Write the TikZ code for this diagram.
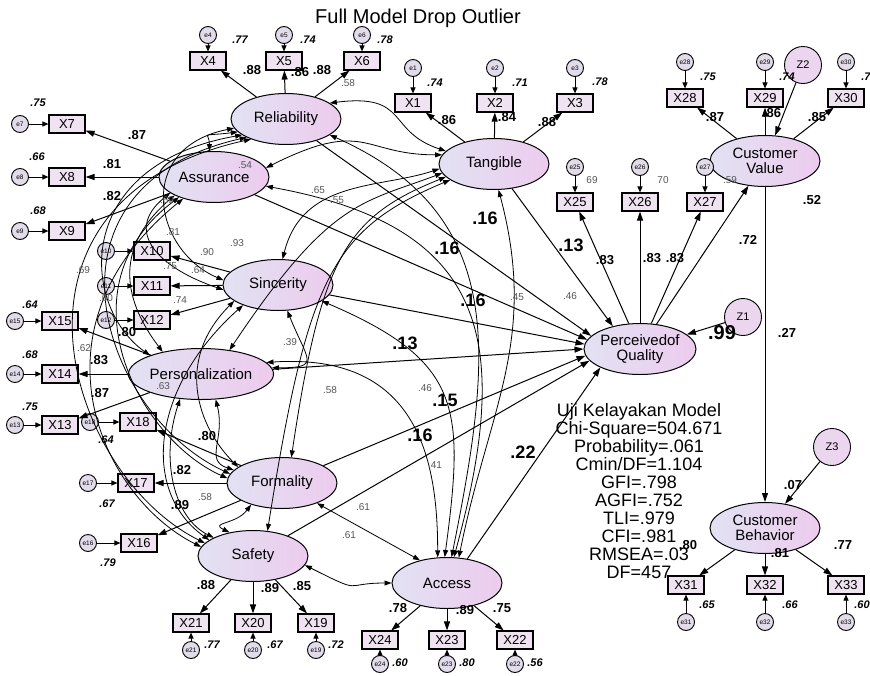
\documentclass[tikz,border=0pt]{standalone}
\usepackage{fontspec}
\setmainfont{Liberation Sans}
\usetikzlibrary{shapes.geometric,arrows.meta,calc}
\newcommand\myfs[1]{\fontsize{#1}{#1}\selectfont}
\definecolor{latL}{HTML}{E2E2F3}
\definecolor{latR}{HTML}{EDCBEE}
\definecolor{boxfill}{HTML}{EFE3F1}
\definecolor{errfill}{HTML}{E2DCEA}
\definecolor{zfill}{HTML}{ECD6EF}
\definecolor{smgray}{HTML}{555555}
\begin{document}
\begin{tikzpicture}[x=1pt,y=-1pt,
 lat/.style={ellipse,draw,line width=1pt,left color=latL,right color=latR,minimum width=110pt,minimum height=51pt,inner sep=0pt,align=center,font=\myfs{15}},
 obs/.style={rectangle,draw,line width=1.1pt,fill=boxfill,minimum width=36pt,minimum height=18pt,inner sep=0pt,font=\myfs{13}},
 err/.style={circle,draw,line width=0.9pt,fill=errfill,minimum size=17pt,inner sep=0pt,font=\myfs{6.5}},
 dist/.style={circle,draw,line width=0.9pt,fill=zfill,minimum size=37pt,inner sep=0pt,font=\myfs{11}},
 ld/.style={font=\bfseries\myfs{13}},
 rsq/.style={font=\bfseries\itshape\myfs{11}},
 big/.style={font=\bfseries\myfs{18}},
 sm/.style={font=\myfs{10},text=smgray},
 arr/.style={line width=1pt,-{Triangle[length=9pt,width=6pt]}},
 earr/.style={line width=1pt,-{Triangle[length=6pt,width=5pt]}},
 cov/.style={line width=0.8pt,{Triangle[length=7pt,width=5pt]}-{Triangle[length=7pt,width=5pt]}},
]
\useasboundingbox (0,0) rectangle (870,675);
\node[font=\myfs{20}] (title) at (418,18) {Full Model Drop Outlier};

% latent variables
\node[lat] (Rel) at (286,119) {Reliability};
\node[lat] (Ass) at (214,177) {Assurance};
\node[lat] (Tan) at (494,164) {Tangible};
\node[lat] (Sin) at (278,285) {Sincerity};
\node[lat] (Per) at (201,374) {Personalization};
\node[lat] (For) at (282,483) {Formality};
\node[lat] (Saf) at (253,556) {Safety};
\node[lat] (Acc) at (447,583) {Access};
\node[lat] (PQ) at (640,349) {Perceivedof\\Quality};
\node[lat] (CV) at (765,161) {Customer\\Value};
\node[lat] (CB) at (765,528) {Customer\\Behavior};
\node[dist] (Z1) at (743,317) {Z1};
\node[dist] (Z2) at (803,65) {Z2};
\node[dist] (Z3) at (832,447) {Z3};

% indicators
\foreach \n/\x/\y in {X4/208/61,X5/284/61,X6/362/61,X1/413/103,X2/495/103,X3/575/103,
  X28/685/98,X29/765/98,X30/846/98,X25/575/202,X26/640/202,X27/705/202,
  X7/67/124,X8/67/177,X9/67/231,X10/152/251,X11/152/286,X12/152/320,
  X15/60/321,X14/60/374,X13/60/425,X18/138/422,X17/136/483,X16/139/543,
  X21/191/623,X20/253/623,X19/316/623,X24/380/640,X23/447/640,X22/515/640,
  X31/686/585,X32/765/585,X33/846/585}
  {\node[obs] (\n) at (\x,\y) {\n};}

% error terms above
\foreach \n/\x/\y/\l in {X4/208/35/e4,X5/284/35/e5,X6/362/35/e6,X1/413/68/e1,X2/495/68/e2,X3/575/68/e3,
  X28/685/62/e28,X29/765/62/e29,X30/846/62/e30,X25/575/167/e25,X26/640/167/e26,X27/705/167/e27}
  {\node[err] (e\n) at (\x,\y) {\l}; \draw[earr] (e\n) -- (\n);}
% error terms left
\foreach \n/\x/\y/\l in {X7/20/124/e7,X8/20/177/e8,X9/20/231/e9,X10/106/251/e10,X11/106/286/e11,X12/106/320/e12,
  X15/15/321/e15,X14/15/374/e14,X13/15/425/e13,X18/90/422/e18,X17/88/483/e17,X16/88/543/e16}
  {\node[err] (e\n) at (\x,\y) {\l}; \draw[earr] (e\n) -- (\n);}
% error terms below
\foreach \n/\x/\y/\l in {X21/191/650/e21,X20/253/650/e20,X19/316/650/e19,X24/380/664/e24,X23/447/664/e23,X22/515/664/e22,
  X31/686/622/e31,X32/765/622/e32,X33/846/622/e33}
  {\node[err] (e\n) at (\x,\y) {\l}; \draw[earr] (e\n) -- (\n);}

% loadings
\foreach \f/\i in {Rel/X4,Rel/X5,Rel/X6,Tan/X1,Tan/X2,Tan/X3,Ass/X7,Ass/X8,Ass/X9,
  Sin/X10,Sin/X11,Sin/X12,Per/X15,Per/X14,Per/X13,For/X18,For/X17,For/X16,
  Saf/X21,Saf/X20,Saf/X19,Acc/X24,Acc/X23,Acc/X22,PQ/X25,PQ/X26,PQ/X27,
  CV/X28,CV/X29,CV/X30,CB/X31,CB/X32,CB/X33}
  {\draw[arr] (\f) -- (\i);}

% structural paths
\draw[arr] (Rel) -- (PQ.165);
\draw[arr] (Tan) -- (PQ.140);
\draw[arr] (Ass) -- (PQ.170);
\draw[arr] (Sin) -- (PQ.175);
\draw[arr] (Per) -- (PQ.180);
\draw[arr] (For) -- (PQ.187);
\draw[arr] (Saf) -- (PQ.193);
\draw[arr] (Acc.50) -- (PQ.205);
\draw[arr] (PQ) -- (CV);
\draw[arr] (CV) -- (CB);
\draw[arr] (Z1) -- (PQ);
\draw[arr] (Z2) -- (CV);
\draw[arr] (Z3) -- (CB);

% covariances among exogenous factors
\draw[cov] (Rel.195) .. controls +(-40,5) and +(0,-20) .. (Ass.100);
\draw[cov] (Rel.190) .. controls +(-100,20) and +(-70,-30) .. (Sin.175);
\draw[cov] (Rel.200) .. controls +(-170,30) and +(-70,-50) .. (Per.160);
\draw[cov] (Rel.205) .. controls +(-220,50) and +(-130,-60) .. (For.170);
\draw[cov] (Rel.210) .. controls +(-270,60) and +(-140,-70) .. (Saf.165);
\draw[cov] (Ass.200) .. controls +(-50,40) and +(-60,-20) .. (Sin.185);
\draw[cov] (Ass.205) .. controls +(-70,60) and +(-30,-40) .. (Per.150);
\draw[cov] (Ass.210) .. controls +(-120,90) and +(-90,-40) .. (For.175);
\draw[cov] (Ass.215) .. controls +(-160,130) and +(-100,-50) .. (Saf.170);
\draw[cov] (Sin.290) .. controls +(20,50) and +(50,0) .. (Per.5);
\draw[cov] (Sin.200) .. controls +(-60,60) and +(-40,-40) .. (For.160);
\draw[cov] (Sin.210) .. controls +(-90,80) and +(-70,-50) .. (Saf.160);
\draw[cov] (Per.300) .. controls +(10,40) and +(-30,-10) .. (For.165);
\draw[cov] (Per.230) .. controls +(-20,60) and +(-40,-20) .. (Saf.155);
\draw[cov] (For.215) .. controls +(-15,20) and +(-20,-10) .. (Saf.135);
\draw[cov] (Rel.20) .. controls +(80,-10) and +(-60,-20) .. (Tan.165);
\draw[cov] (Ass.10) .. controls +(100,-50) and +(-80,0) .. (Tan.170);
\draw[cov] (Sin.80) .. controls +(20,-80) and +(-60,20) .. (Tan.185);
\draw[cov] (Per.40) .. controls +(100,-150) and +(-80,30) .. (Tan.190);
\draw[cov] (For.70) .. controls +(30,-200) and +(-100,40) .. (Tan.195);
\draw[cov] (Saf.60) .. controls +(40,-250) and +(-120,50) .. (Tan.200);
\draw[cov] (Rel.340) .. controls +(180,80) and +(40,-200) .. (Acc.80);
\draw[cov] (Ass.350) .. controls +(220,40) and +(60,-220) .. (Acc.75);
\draw[cov] (Tan.280) .. controls +(40,150) and +(30,-150) .. (Acc.65);
\draw[cov] (Sin.340) .. controls +(140,60) and +(20,-150) .. (Acc.95);
\draw[cov] (Per.10) .. controls +(150,-10) and +(0,-100) .. (Acc.110);
\draw[cov] (For.330) -- (Acc.140);
\draw[cov] (Saf.350) .. controls +(60,30) and +(-50,0) .. (Acc.west);

% loading labels
\foreach \t/\x/\y in {.88/252/70,.86/300/72,.88/322/70,.86/447/120,.84/507/117,.88/547/122,
  .87/137/135,.81/112/164,.82/112/196,.80/127/332,.83/99/360,.87/100/393,
  .80/207/436,.82/182/470,.89/180/505,.88/206/585,.89/270/588,.85/302/586,
  .78/398/608,.89/465/610,.75/502/608,.83/605/260,.83/652/258,.83/675/258,
  .87/715/117,.86/772/113,.85/817/117,.80/688/545,.81/780/553,.77/843/545}
  {\node[ld] at (\x,\y) {\t};}

% R-square labels
\foreach \t/\x/\y in {.77/240/40,.74/308/40,.78/385/40,.74/435/83,.71/520/83,.78/600/82,
  .75/708/77,.74/787/77,.7/866/77,.75/38/103,.66/37/157,.68/38/211,
  .64/30/305,.68/30/355,.75/30/407,.64/106/440,.67/107/504,.79/108/563,
  .77/212/645,.67/275/645,.72/336/645,.60/400/663,.80/467/663,.56/535/663,
  .65/707/605,.66/790/605,.60/862/605}
  {\node[rsq] at (\x,\y) {\t};}
\node[sm] at (592,180) {69};
\node[sm] at (663,180) {70};
\node[sm] at (730,180) {.59};

% structural labels
\node[big] at (485,218) {.16};
\node[big] at (447,248) {.16};
\node[big] at (473,300) {.16};
\node[big] at (405,343) {.13};
\node[big] at (445,400) {.15};
\node[big] at (420,435) {.16};
\node[big] at (523,452) {.22};
\node[big] at (571,245) {.13};
\node[ld] at (748,240) {.72};
\node[ld] at (812,200) {.52};
\node[ld] at (787,333) {.27};
\node[ld] at (793,485) {.07};
\node[big,font=\bfseries\myfs{20}] at (722,333) {.99};

% covariance labels
\foreach \t/\x/\y in {.58/348/83,.54/245/165,.69/167/200,.65/318/190,.55/337/200,.81/173/232,
  .90/207/252,.93/237/243,.75/170/266,.64/198/270,.74/180/300,.69/83/270,.60/106/298,
  .39/290/342,.58/330/390,.46/425/388,.45/517/297,.46/570/296,.41/435/465,
  .61/363/507,.61/349/535,.58/205/497,.62/84/348,.63/163/386}
  {\node[sm] at (\x,\y) {\t};}

% fit statistics
\node[align=center,font=\myfs{18},text depth=0pt] (fit) at (639,491)
 {\baselineskip=21.4pt Uji Kelayakan Model\\Chi-Square=504.671\\Probability=.061\\Cmin/DF=1.104\\GFI=.798\\AGFI=.752\\TLI=.979\\CFI=.981\\RMSEA=.03\\DF=457};
\end{tikzpicture}
\end{document}
